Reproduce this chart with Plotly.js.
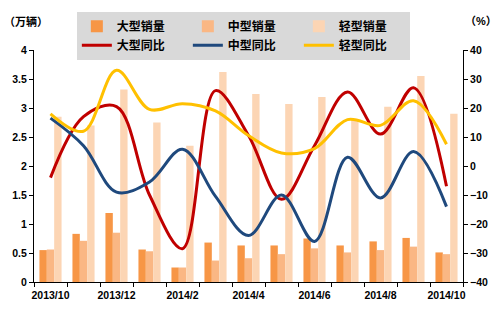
<!DOCTYPE html>
<html>
<head>
<meta charset="utf-8">
<script src="https://cdn.plot.ly/plotly-3.0.1.min.js"></script>
<style>html,body{margin:0;padding:0;background:#fff;}#chart{width:502px;height:315px;}</style>
</head>
<body>
<div id="chart"></div>
<script>
var months = ['2013/10','2013/11','2013/12','2014/1','2014/2','2014/3','2014/4','2014/5','2014/6','2014/7','2014/8','2014/9','2014/10'];
var largeSales  = [0.55, 0.83, 1.19, 0.56, 0.25, 0.68, 0.63, 0.63, 0.75, 0.63, 0.70, 0.76, 0.51];
var mediumSales = [0.56, 0.71, 0.85, 0.53, 0.25, 0.37, 0.41, 0.48, 0.58, 0.51, 0.55, 0.61, 0.48];
var lightSales  = [2.85, 2.70, 3.32, 2.75, 2.35, 3.62, 3.24, 3.07, 3.19, 2.80, 3.02, 3.55, 2.90];
var largeYoY  = [-4, 17, 20.5, -10, -28.5, 26, 10.5, -11.5, 7, 25.5, 11, 27, -7];
var mediumYoY = [16.5, 7, -9, -5.5, 5.8, -10.5, -24, -10, -26, 3, -11, 5, -14];
var lightYoY  = [18, 12, 33, 19.5, 21.5, 19, 10.5, 4.5, 6, 16, 14, 22.5, 7.5];
var names = ['大型销量','中型销量','轻型销量','大型同比','中型同比','轻型同比'];

var FONT = 'Liberation Sans, Arial, Noto Sans CJK SC, sans-serif';
var barColors = ['#F79646','#FAB784','#FCD5B4'];
var lineColors = ['#C00000','#1F497D','#FFC000'];

var traces = [];
[largeSales, mediumSales, lightSales].forEach(function(v, i){
  traces.push({type:'bar', x: months, y: v, name: names[i], marker:{color: barColors[i]}, yaxis:'y', hoverinfo:'skip'});
});
[largeYoY, mediumYoY, lightYoY].forEach(function(v, i){
  traces.push({type:'scatter', mode:'lines', x: months, y: v, name: names[i+3],
    line:{color: lineColors[i], width: 3, shape:'spline', smoothing: 1}, yaxis:'y2', hoverinfo:'skip'});
});

var layout = {
  width: 502, height: 315,
  margin: {l: 34, r: 39, t: 41, b: 33},
  paper_bgcolor: '#fff', plot_bgcolor: '#fff',
  barmode: 'group', bargap: 0.33, bargroupgap: 0,
  showlegend: true,
  legend: {
    orientation: 'h', x: 0.488, xanchor: 'center', y: 1.165, yanchor: 'top',
    bgcolor: '#D9D9D9', borderwidth: 0,
    entrywidth: 66, itemwidth: 30, traceorder: 'normal',
    font: {family: FONT, size: 12, color: '#000', weight: 'bold'}
  },
  xaxis: {
    type: 'category', tickson: 'boundaries', ticks: 'outside', ticklen: 4, tickcolor: '#000',
    ticklabelstep: 2, tickangle: 0, ticklabelstandoff: 3, showline: true, linecolor: '#000', linewidth: 1, showgrid: false, zeroline: false,
    tickfont: {family: FONT, size: 10.5, color: '#000', weight: 'bold'}
  },
  yaxis: {
    range: [0, 4], dtick: 0.5, ticks: 'outside', ticklen: 4, tickcolor: '#000',
    showline: true, linecolor: '#000', linewidth: 1, showgrid: false, zeroline: false,
    tickfont: {family: FONT, size: 10.5, color: '#000', weight: 'bold'}
  },
  yaxis2: {
    overlaying: 'y', side: 'right', range: [-40, 40], dtick: 10, ticks: 'outside', ticklen: 4, tickcolor: '#000',
    showline: true, linecolor: '#000', linewidth: 1, showgrid: false, zeroline: false,
    tickfont: {family: FONT, size: 10.5, color: '#000', weight: 'bold'}
  },
  annotations: [
    {text: '（万辆）', xref: 'paper', yref: 'paper', x: -0.075, y: 1.16, xanchor: 'left', yanchor: 'top', showarrow: false,
     font: {family: FONT, size: 11, color: '#000', weight: 'bold'}},
    {text: '（%）', xref: 'paper', yref: 'paper', x: 1.0, y: 1.16, xanchor: 'left', yanchor: 'top', showarrow: false,
     font: {family: FONT, size: 11, color: '#000', weight: 'bold'}}
  ]
};

Plotly.newPlot('chart', traces, layout, {displayModeBar: false, staticPlot: true});
</script>
</body>
</html>
